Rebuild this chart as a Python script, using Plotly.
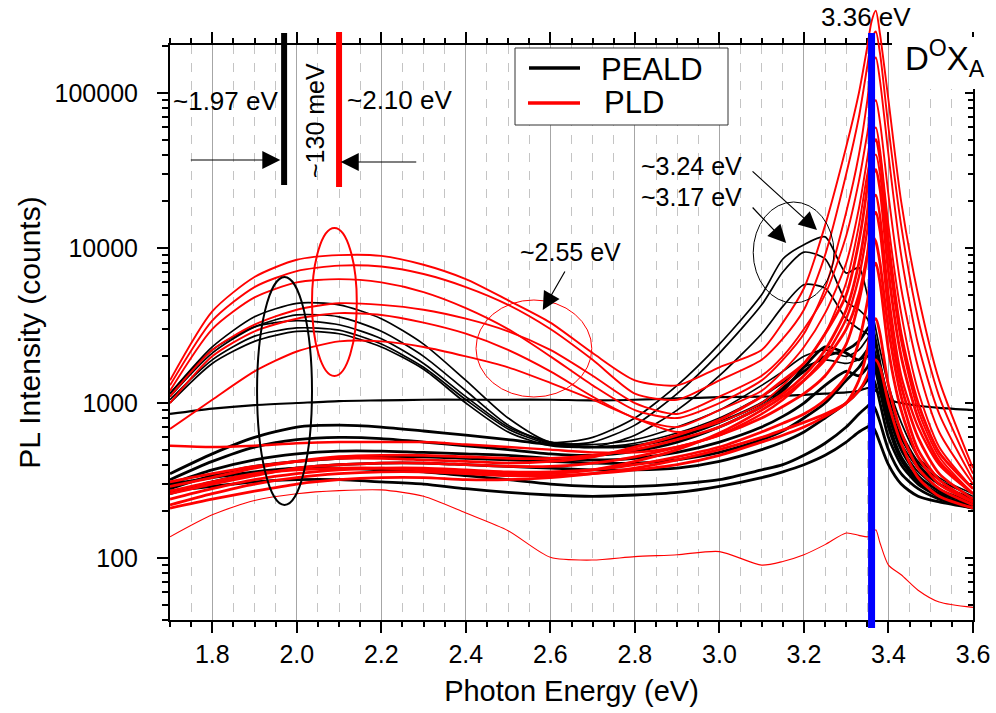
import plotly.graph_objects as go

# Photon energy grid (eV) shared by every spectrum
energy = [1.70, 1.80, 1.90, 2.00, 2.10, 2.20, 2.30, 2.40, 2.50, 2.60, 2.70, 2.80,
          2.90, 3.00, 3.10, 3.15, 3.20, 3.25, 3.30, 3.33, 3.35, 3.36, 3.37, 3.38,
          3.40, 3.43, 3.47, 3.52, 3.60]

# PEALD spectra (counts)
peald_1 = [1150, 2300, 3600, 4400, 4300, 3500, 2400, 1400, 800, 560, 600, 800, 1300, 2400, 5000, 8500, 10500, 11800, 6900, 7500, 5000, 4000, 3000, 2200, 1300, 750, 450, 330, 260]
peald_2 = [1100, 2100, 3100, 3700, 3600, 2900, 2000, 1200, 720, 550, 560, 720, 1150, 2100, 4300, 7000, 9400, 8500, 4500, 4000, 3500, 3000, 2400, 1800, 1100, 650, 420, 320, 250]
peald_3 = [1050, 1900, 2700, 3050, 2950, 2400, 1700, 1050, 680, 540, 520, 620, 900, 1500, 2800, 4200, 5800, 5500, 3500, 3000, 2800, 2500, 2000, 1500, 900, 550, 380, 300, 240]
peald_4 = [1150, 2200, 3100, 3400, 3200, 2600, 1800, 1100, 700, 560, 540, 580, 700, 900, 1300, 1600, 2000, 2200, 2000, 2200, 2600, 2800, 2300, 1700, 1000, 600, 400, 300, 240]
peald_5 = [1000, 1800, 2500, 2900, 2800, 2300, 1650, 1000, 650, 530, 520, 550, 640, 800, 1100, 1350, 1700, 1900, 1800, 1900, 2000, 2100, 1800, 1400, 850, 520, 360, 280, 230]
peald_6 = [850, 920, 970, 1000, 1030, 1040, 1050, 1050, 1050, 1050, 1040, 1050, 1070, 1090, 1100, 1110, 1130, 1150, 1170, 1200, 1250, 1250, 1200, 1150, 1050, 1000, 960, 930, 900]
peald_7 = [350, 470, 600, 700, 720, 700, 660, 620, 580, 540, 520, 530, 600, 750, 1000, 1250, 1600, 2000, 2200, 2500, 3000, 3200, 2500, 1800, 1000, 600, 400, 300, 240]
peald_8 = [320, 420, 520, 580, 600, 590, 560, 530, 500, 470, 460, 490, 560, 700, 950, 1200, 1700, 2300, 2100, 1900, 2200, 2400, 2000, 1500, 850, 500, 340, 270, 230]
peald_9 = [300, 370, 430, 470, 490, 490, 480, 470, 460, 440, 430, 440, 480, 560, 700, 820, 1000, 1300, 1600, 1500, 1700, 1900, 1600, 1200, 700, 430, 310, 250, 220]
peald_10 = [280, 340, 390, 420, 440, 450, 450, 440, 430, 420, 410, 410, 430, 480, 580, 660, 800, 1000, 1400, 1700, 2000, 2000, 1700, 1300, 750, 450, 320, 260, 230]
peald_11 = [260, 310, 350, 380, 400, 410, 410, 400, 390, 380, 370, 370, 380, 420, 500, 560, 650, 800, 1000, 1200, 1400, 1500, 1300, 1000, 600, 400, 300, 250, 220]
peald_12 = [300, 330, 360, 380, 380, 370, 360, 340, 320, 300, 290, 290, 300, 320, 370, 400, 460, 550, 700, 850, 950, 1000, 900, 750, 500, 350, 280, 240, 210]
peald_13 = [270, 290, 310, 320, 320, 310, 300, 280, 265, 255, 250, 255, 265, 290, 330, 360, 400, 460, 560, 650, 700, 720, 650, 550, 400, 300, 250, 230, 210]

# PLD spectra (counts)
pld_1 = [1400, 3900, 6500, 8400, 9000, 8900, 7800, 6300, 4600, 3300, 2100, 1400, 1300, 1700, 2200, 3300, 5500, 14000, 45000, 100000, 200000, 290000, 340000, 240000, 90000, 20000, 5000, 1400, 380]
pld_2 = [1300, 3400, 5600, 7100, 7700, 7600, 6800, 5600, 4300, 3000, 1900, 1150, 1050, 1400, 1900, 2600, 4000, 9000, 30000, 70000, 150000, 220000, 250000, 180000, 60000, 14000, 3500, 1100, 350]
pld_3 = [1200, 3000, 4800, 6000, 6300, 6000, 5200, 4100, 3000, 2000, 1300, 900, 800, 1000, 1400, 1900, 2800, 5500, 17000, 40000, 90000, 150000, 170000, 120000, 40000, 9000, 2400, 850, 320]
pld_4 = [1100, 2200, 3200, 4000, 4400, 4300, 4000, 3500, 2900, 2200, 1500, 1000, 850, 1100, 1500, 2000, 3000, 5000, 12000, 27000, 55000, 80000, 90000, 65000, 22000, 5500, 1700, 650, 300]
pld_5 = [1000, 2000, 2900, 3500, 3800, 3700, 3300, 2800, 2200, 1600, 1100, 800, 700, 900, 1200, 1600, 2300, 3800, 8000, 18000, 38000, 55000, 60000, 43000, 14000, 3800, 1200, 520, 280]
pld_6 = [680, 1050, 1600, 2150, 2500, 2500, 2300, 2000, 1700, 1350, 1050, 800, 650, 750, 1000, 1300, 1800, 2800, 6000, 14000, 30000, 38000, 40000, 30000, 9000, 2500, 900, 450, 260]
pld_7 = [530, 520, 530, 550, 560, 560, 560, 540, 520, 500, 480, 480, 520, 620, 850, 1050, 1400, 2000, 3500, 6500, 13000, 20000, 22000, 16000, 5000, 1500, 700, 400, 260]
pld_8 = [290, 330, 380, 420, 450, 460, 460, 450, 440, 440, 460, 500, 580, 700, 950, 1150, 1500, 2200, 4000, 8000, 17000, 28000, 32000, 24000, 7000, 2000, 800, 420, 260]
pld_9 = [260, 300, 340, 380, 400, 410, 410, 400, 390, 390, 410, 450, 520, 620, 800, 950, 1150, 1500, 2400, 4500, 9000, 15000, 17000, 13000, 4000, 1300, 600, 350, 240]
pld_10 = [240, 280, 320, 350, 370, 380, 380, 370, 360, 360, 370, 400, 450, 520, 650, 740, 850, 1050, 1500, 2500, 4500, 7000, 8000, 6000, 2200, 900, 450, 300, 230]
pld_11 = [220, 260, 300, 330, 350, 360, 360, 350, 340, 340, 350, 370, 400, 460, 560, 620, 700, 820, 1000, 1400, 2200, 3200, 3500, 2800, 1300, 650, 380, 280, 220]
pld_12 = [310, 350, 390, 420, 440, 440, 430, 420, 410, 420, 450, 520, 620, 780, 1100, 1400, 1800, 2800, 5000, 11000, 25000, 45000, 50000, 38000, 11000, 2800, 1000, 480, 280]
pld_13 = [270, 310, 350, 370, 380, 380, 370, 360, 350, 350, 370, 420, 500, 640, 900, 1100, 1400, 1900, 3000, 5000, 9000, 12000, 11000, 8000, 3000, 1100, 500, 320, 230]
pld_14 = [210, 240, 270, 300, 320, 330, 330, 320, 320, 330, 350, 380, 430, 500, 600, 670, 750, 850, 1000, 1200, 1500, 1800, 1900, 1700, 1000, 550, 330, 250, 210]
pld_15 = [137, 190, 235, 260, 272, 275, 250, 195, 150, 101, 97, 102, 105, 110, 90, 95, 105, 122, 145, 140, 137, 140, 152, 125, 90, 78, 62, 52, 48]

peald_spectra = [peald_1, peald_2, peald_3, peald_4, peald_5, peald_6, peald_7,
                 peald_8, peald_9, peald_10, peald_11, peald_12, peald_13]
pld_spectra = [pld_1, pld_2, pld_3, pld_4, pld_5, pld_6, pld_7, pld_8,
               pld_9, pld_10, pld_11, pld_12, pld_13, pld_14, pld_15]

# Axis ticks
x_ticks = [1.8, 2.0, 2.2, 2.4, 2.6, 2.8, 3.0, 3.2, 3.4, 3.6]
x_ticktext = ["1.8", "2.0", "2.2", "2.4", "2.6", "2.8", "3.0", "3.2", "3.4", "3.6"]
y_ticks = [100, 1000, 10000, 100000]
y_ticktext = ["100", "1000", "10000", "100000"]
y_minor = [m * d for d in (10, 100, 1000, 10000, 100000) for m in range(2, 10)
           if 40 <= m * d <= 200000]

# Marked energies (eV)
e_peald = 1.97
e_pld = 2.10
e_dx = 3.36

X_RANGE = [1.7, 3.6]
Y_LOG_RANGE = [1.6, 5.31]

# Page geometry: plotting box spans 170..973 px horizontally, 45..620 px vertically;
# the spectra subplot reaches up to 5 px so intense peaks can rise above the frame
L, R, T_DATA, T_FRAME, B = 170, 973, 5, 45, 620
frame_frac = (B - T_FRAME) / (B - T_DATA)
y2_top = Y_LOG_RANGE[0] + (Y_LOG_RANGE[1] - Y_LOG_RANGE[0]) / frame_frac


def fx(px):
    return (px - L) / (R - L)


def fy(py):
    return (B - py) / (B - T_DATA)


FONT = "Liberation Sans, Arial, Helvetica, sans-serif"

fig = go.Figure()

# empty traces that register the framed subplot and its right-hand axis
fig.add_trace(go.Scatter(x=[], y=[], xaxis="x", yaxis="y", showlegend=False))
fig.add_trace(go.Scatter(x=[], y=[], xaxis="x", yaxis="y3", showlegend=False))

peald_widths = [1.7, 1.7, 1.7, 1.7, 1.7, 2.2, 2.8, 2.8, 2.8, 2.8, 2.8, 2.8, 2.8]
pld_widths = [1.9, 1.9, 1.9, 1.9, 1.9, 1.9, 2.4, 2.8, 2.8, 2.8, 2.8, 2.8, 2.8, 2.8, 1.1]

for vals, w in zip(peald_spectra, peald_widths):
    fig.add_trace(go.Scatter(
        x=energy, y=vals, xaxis="x2", yaxis="y2", mode="lines",
        line=dict(color="#000000", width=w, shape="spline", smoothing=0.7),
        showlegend=False, hoverinfo="skip"))

for vals, w in zip(pld_spectra, pld_widths):
    fig.add_trace(go.Scatter(
        x=energy, y=vals, xaxis="x2", yaxis="y2", mode="lines",
        line=dict(color="#ff0000", width=w, shape="spline", smoothing=0.7),
        showlegend=False, hoverinfo="skip"))

axis_common = dict(showline=True, linewidth=2, linecolor="black", zeroline=False,
                   tickcolor="black", tickwidth=2, automargin=False)

fig.update_layout(
    width=996, height=713,
    margin=dict(l=L, r=996 - R, t=T_DATA, b=713 - B),
    paper_bgcolor="white", plot_bgcolor="rgba(0,0,0,0)",
    font=dict(family=FONT, color="black"),
    showlegend=False,
    xaxis=dict(
        domain=[0, 1], range=X_RANGE, anchor="y",
        tickvals=x_ticks, ticktext=x_ticktext, ticks="outside", ticklen=11,
        mirror="ticks", tickfont=dict(size=25),
        showgrid=True, gridcolor="#a6a6a6", gridwidth=1,
        minor=dict(tick0=1.7, dtick=0.05, ticks="outside", ticklen=5, tickwidth=2,
                   tickcolor="black", showgrid=True, gridcolor="#c4c4c4",
                   griddash="dash", gridwidth=1),
        title=dict(text="Photon Energy (eV)", font=dict(size=29), standoff=14),
        **axis_common),
    yaxis=dict(
        domain=[0, frame_frac], type="log", range=Y_LOG_RANGE, anchor="x",
        tickvals=y_ticks, ticktext=y_ticktext, ticks="outside", ticklen=11,
        ticklabelstandoff=14,
        tickfont=dict(size=25), showgrid=False,
        minor=dict(tickvals=y_minor, ticks="outside", ticklen=6, tickwidth=1.5,
                   tickcolor="black", showgrid=False),
        title=dict(text="PL Intensity (counts)", font=dict(size=30), standoff=5),
        **axis_common),
    yaxis3=dict(
        overlaying="y", side="right", type="log", range=Y_LOG_RANGE, anchor="x",
        tickvals=y_ticks, showticklabels=False, ticks="inside", ticklen=8,
        showgrid=False,
        minor=dict(tickvals=y_minor, ticks="inside", ticklen=5, tickwidth=1.5,
                   tickcolor="black", showgrid=False),
        **axis_common),
    xaxis2=dict(domain=[0, 1], range=X_RANGE, anchor="y2", visible=False),
    yaxis2=dict(domain=[0, 1], type="log", range=[Y_LOG_RANGE[0], y2_top],
                anchor="x2", visible=False),
)

shapes = []
# emission markers
shapes.append(dict(type="line", xref="x", yref="paper", x0=e_peald, x1=e_peald,
                   y0=fy(185), y1=fy(33), line=dict(color="black", width=6), layer="above"))
shapes.append(dict(type="line", xref="x", yref="paper", x0=e_pld, x1=e_pld,
                   y0=fy(187), y1=fy(32), line=dict(color="#ff0000", width=6), layer="above"))
shapes.append(dict(type="line", xref="x", yref="paper", x0=e_dx, x1=e_dx,
                   y0=fy(628), y1=fy(33), line=dict(color="#0000ff", width=7), layer="above"))

# highlighted regions
shapes.append(dict(type="circle", xref="x", yref="paper", x0=1.906, x1=2.036,
                   y0=fy(505), y1=fy(277), line=dict(color="black", width=2), layer="above"))
shapes.append(dict(type="circle", xref="x", yref="paper", x0=2.036, x1=2.142,
                   y0=fy(376), y1=fy(228), line=dict(color="#ff0000", width=2), layer="above"))
shapes.append(dict(type="circle", xref="x", yref="paper", x0=2.424, x1=2.698,
                   y0=fy(397), y1=fy(300), line=dict(color="#ff0000", width=1), layer="above"))
shapes.append(dict(type="circle", xref="x", yref="paper", x0=3.080, x1=3.271,
                   y0=fy(303), y1=fy(202), line=dict(color="black", width=1), layer="above"))

# white patch behind the D0XA label
shapes.append(dict(type="rect", xref="paper", yref="paper", x0=fx(892), x1=fx(996),
                   y0=fy(89), y1=fy(37), fillcolor="white", line=dict(width=0), layer="above"))

# legend box
shapes.append(dict(type="rect", xref="paper", yref="paper", x0=fx(515), x1=fx(728),
                   y0=fy(125), y1=fy(48), fillcolor="white",
                   line=dict(color="#333333", width=1), layer="above"))
shapes.append(dict(type="line", xref="paper", yref="paper", x0=fx(529), x1=fx(580),
                   y0=fy(68), y1=fy(68), line=dict(color="black", width=3.5), layer="above"))
shapes.append(dict(type="line", xref="paper", yref="paper", x0=fx(528), x1=fx(580),
                   y0=fy(103), y1=fy(103), line=dict(color="#ff0000", width=3.5), layer="above"))

annotations = []


def label(text, px, py, size=25, xanchor="left", angle=0):
    annotations.append(dict(text=text, x=fx(px), y=fy(py), xref="paper", yref="paper",
                            xanchor=xanchor, yanchor="middle", showarrow=False,
                            textangle=angle, font=dict(size=size, family=FONT, color="black")))


def arrow(tip_e, tip_py, dx, dy):
    annotations.append(dict(text="", x=tip_e, y=fy(tip_py), xref="x", yref="paper",
                            ax=dx, ay=dy, showarrow=True, arrowhead=2, arrowsize=3,
                            arrowwidth=1.2, arrowcolor="black", standoff=0))


label("~1.97 eV", 171, 101, size=26)
label("~2.10 eV", 345, 100, size=26)
label("~130 meV", 315, 121, size=25, xanchor="center", angle=-90)
label("3.36 eV", 866, 17, size=26, xanchor="center")
label("~2.55 eV", 518, 252, size=25)
label("~3.24 eV", 639, 166, size=25)
label("~3.17 eV", 639, 197, size=25)
label("D<sup>O</sup>X<sub>A</sub>", 903, 59, size=33)
label("PEALD", 599, 69, size=31)
label("PLD", 602, 103, size=31)

arrow(1.961, 160, -91, 0)
arrow(2.104, 162, 77, 0)
arrow(2.582, 310, 23, -40)
arrow(3.158, 243, -35, -37)
arrow(3.231, 230, -66, -60)

fig.update_layout(shapes=shapes, annotations=annotations)

fig.write_html("out.html")
